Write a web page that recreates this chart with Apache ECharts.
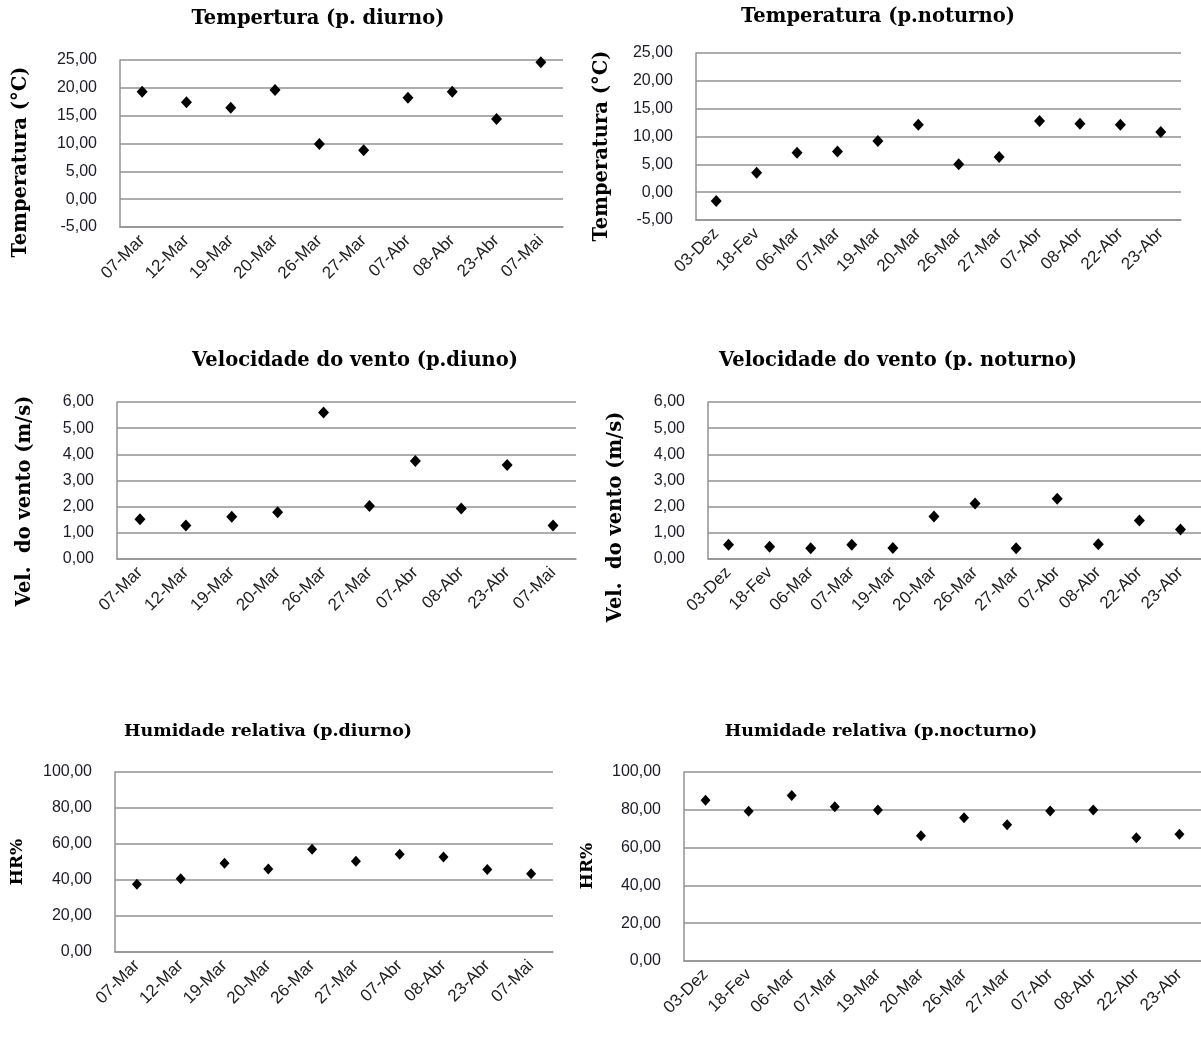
<!DOCTYPE html>
<html>
<head>
<meta charset="utf-8">
<script src="https://cdn.jsdelivr.net/npm/echarts@6/dist/echarts.min.js"></script>
<style>
html,body{margin:0;padding:0;background:#fff;}
#chart{width:1201px;height:1046px;}
</style>
</head>
<body>
<div id="chart"></div>
<script>
// ---- Data ----
const catsDiurno = ['07-Mar','12-Mar','19-Mar','20-Mar','26-Mar','27-Mar','07-Abr','08-Abr','23-Abr','07-Mai'];
const catsNoturno = ['03-Dez','18-Fev','06-Mar','07-Mar','19-Mar','20-Mar','26-Mar','27-Mar','07-Abr','08-Abr','22-Abr','23-Abr'];

const tempDiurno = [19.3, 17.4, 16.4, 19.6, 9.9, 8.8, 18.2, 19.3, 14.4, 24.6];
const tempNoturno = [-1.6, 3.5, 7.1, 7.3, 9.2, 12.1, 5.0, 6.3, 12.8, 12.3, 12.1, 10.8];
const ventoDiurno = [1.52, 1.28, 1.61, 1.79, 5.60, 2.03, 3.75, 1.93, 3.59, 1.28];
const ventoNoturno = [0.54, 0.47, 0.41, 0.54, 0.42, 1.62, 2.12, 0.41, 2.30, 0.56, 1.47, 1.13];
const hrDiurno = [37.7, 40.7, 49.3, 46.1, 57.1, 50.4, 54.3, 52.8, 45.9, 43.5];
const hrNoturno = [85.0, 79.2, 87.6, 81.6, 79.9, 66.3, 75.8, 72.1, 79.3, 79.9, 65.2, 67.1];

const titles = ['Tempertura (p. diurno)', 'Temperatura (p.noturno)', 'Velocidade do vento (p.diuno)', 'Velocidade do vento (p. noturno)', 'Humidade relativa (p.diurno)', 'Humidade relativa (p.nocturno)'];
const yNames = ['Temperatura (°C)', 'Temperatura (°C)', 'Vel.  do vento (m/s)', 'Vel.  do vento (m/s)', 'HR%', 'HR%'];

// ---- Layout ----
const panels = [
  {cats: catsDiurno, data: tempDiurno, min: -5, max: 25, interval: 5, grid: {left: 120, top: 60, width: 443, height: 167}, title: [318, 19], tsize: 19.5, yname: [21, 162], ysize: 19.5},
  {cats: catsNoturno, data: tempNoturno, min: -5, max: 25, interval: 5, grid: {left: 696, top: 53, width: 485, height: 167}, title: [878, 17], tsize: 19.5, yname: [602, 146], ysize: 19.5},
  {cats: catsDiurno, data: ventoDiurno, min: 0, max: 6, interval: 1, grid: {left: 117, top: 402, width: 459, height: 157}, title: [355, 361], tsize: 19.5, yname: [25, 501], ysize: 19.5},
  {cats: catsNoturno, data: ventoNoturno, min: 0, max: 6, interval: 1, grid: {left: 708, top: 402, width: 494, height: 157}, title: [898, 361], tsize: 19.5, yname: [616, 517], ysize: 19.5},
  {cats: catsDiurno, data: hrDiurno, min: 0, max: 100, interval: 20, grid: {left: 115, top: 772, width: 438, height: 180}, title: [268, 731], tsize: 17.5, yname: [18, 862], ysize: 17},
  {cats: catsNoturno, data: hrNoturno, min: 0, max: 100, interval: 20, grid: {left: 684, top: 772, width: 524, height: 189}, title: [881, 731], tsize: 17.5, yname: [588, 866], ysize: 17}
];

const gridColor = '#929292';
const labelFont = 'Liberation Sans';
const serif = 'DejaVu Serif';

const option = {
  animation: false,
  backgroundColor: '#fff',
  grid: panels.map(p => Object.assign({containLabel: false}, p.grid)),
  xAxis: panels.map((p, i) => ({
    type: 'category',
    gridIndex: i,
    data: p.cats,
    boundaryGap: true,
    axisLine: {show: true, onZero: false, lineStyle: {color: gridColor, width: 1.5}},
    axisTick: {show: false},
    splitLine: {show: false},
    axisLabel: {rotate: 45, interval: 0, margin: 11, color: '#222', fontFamily: labelFont, fontSize: 17}
  })),
  yAxis: panels.map((p, i) => ({
    type: 'value',
    gridIndex: i,
    min: p.min, max: p.max, interval: p.interval,
    axisLine: {show: true, lineStyle: {color: gridColor, width: 1.5}},
    axisTick: {show: false},
    splitLine: {show: true, lineStyle: {color: gridColor, width: 1.5}},
    axisLabel: {
      margin: 23, color: '#1c1c28', fontFamily: labelFont, fontSize: 16,
      formatter: v => v.toFixed(2).replace('.', ',')
    }
  })),
  series: panels.map((p, i) => ({
    type: 'scatter',
    xAxisIndex: i,
    yAxisIndex: i,
    data: p.data,
    symbol: 'diamond',
    symbolSize: i >= 4 ? [10, 11] : [11, 12],
    itemStyle: {color: '#000', opacity: 1}
  })),
  graphic: [].concat(
    panels.map((p, i) => ({
      type: 'text',
      x: p.title[0], y: p.title[1],
      style: {
        text: titles[i], fill: '#000',
        font: 'bold ' + p.tsize + 'px "' + serif + '"',
        textAlign: 'center', textVerticalAlign: 'middle'
      }
    })),
    panels.map((p, i) => ({
      type: 'text',
      x: p.yname[0], y: p.yname[1],
      rotation: Math.PI / 2,
      style: {
        text: yNames[i], fill: '#000',
        font: 'bold ' + p.ysize + 'px "' + serif + '"',
        textAlign: 'center', textVerticalAlign: 'middle'
      }
    }))
  )
};

const chart = echarts.init(document.getElementById('chart'));
chart.setOption(option);
</script>
</body>
</html>
